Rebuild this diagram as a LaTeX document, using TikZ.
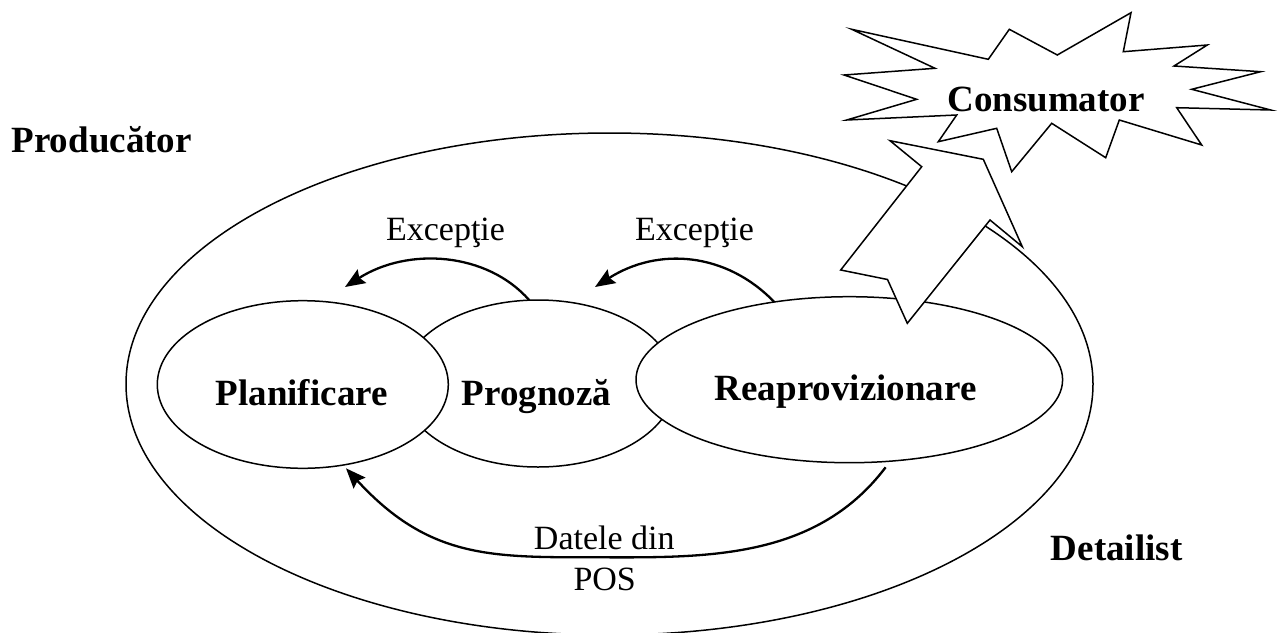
\documentclass[tikz,border=0pt]{standalone}
\usepackage{fontspec}
\setmainfont{Liberation Serif}
\usetikzlibrary{shapes.geometric,arrows.meta}
\begin{document}
\begin{tikzpicture}[x=1pt,y=-1pt,
  outline/.style={draw=black,line width=1.5pt,fill=white,line join=miter},
  oval/.style={outline,ellipse,inner sep=0pt,outer sep=0pt},
  boldlbl/.style={font=\fontsize{37}{40}\selectfont\bfseries,inner sep=0pt,anchor=base},
  plainlbl/.style={font=\fontsize{34}{38}\selectfont,inner sep=0pt,anchor=base},
  flow/.style={line width=2.3pt,-{Stealth[length=20pt,width=16pt,inset=3pt]}}]
\useasboundingbox (0,0) rectangle (1280,632);
\clip (0,0) rectangle (1280,632);

% outer region and the three process ovals
\node[oval,minimum width=967pt,minimum height=502pt] (outer) at (609.5,384) {};
\node[oval,minimum width=274pt,minimum height=167pt] (progn) at (538,383.5) {};
\node[oval,minimum width=291pt,minimum height=167.6pt] (plan) at (302.8,384.5) {};
\node[oval,minimum width=426.6pt,minimum height=166pt] (reapr) at (849.3,379.7) {};

% notched block arrow towards the consumer
\draw[outline] (983.3,159.3) -- (1022.3,246.7) -- (990,220) -- (907.3,323.3)
  -- (887.5,279.5) -- (840.7,270) -- (921.7,166.7) -- (890,140.7) -- cycle;

% starburst
\draw[outline] (851.7,29.3) -- (988.3,59.3) -- (1009.3,29.3) -- (1057.3,55)
  -- (1131,12.7) -- (1123.3,51.7) -- (1207.3,45) -- (1174,66) -- (1260.7,71.7)
  -- (1191.7,89.3) -- (1270.7,110) -- (1176.7,107.7) -- (1201.7,145)
  -- (1119.3,120) -- (1105.7,157.7) -- (1051.7,123.3) -- (1011.7,171.7)
  -- (996.7,128.3) -- (938.3,141.7) -- (956.7,115) -- (846.7,120)
  -- (916.7,99.3) -- (844,75) -- (935,68.3) -- cycle;

% labels
\node[boldlbl] (prod) at (101.7,152.7) {Producător};
\node[boldlbl] (cons) at (1046,111.7) {Consumator};
\node[boldlbl] (tplan) at (301.7,405) {Planificare};
\node[boldlbl] (tprogn) at (536.4,405) {Prognoză};
\node[boldlbl] (treapr) at (845.7,400) {Reaprovizionare};
\node[boldlbl] (det) at (1116.7,560.7) {Detailist};
\node[plainlbl] (ex1) at (445.5,240) {Excepţie};
\node[plainlbl] (ex2) at (694.5,240) {Excepţie};
\node[plainlbl] (dat) at (604.3,549.3) {Datele din};
\node[plainlbl] (pos) at (604.7,590) {POS};

% connector end points
\coordinate (e1end) at (345,287);
\coordinate (e2end) at (595,287);
\coordinate (posStart) at (885.6,467.3);
\coordinate (posEnd) at (346,468.3);

% exception feedback arrows
\draw[flow] (progn.96) .. controls (487,252) and (408,246.8) .. (e1end);
\draw[flow] (reapr.134) .. controls (726,252) and (658,246.8) .. (e2end);

% POS data arrow
\draw[flow] (posStart) .. controls (813.2,563) and (698,557.3) .. (588,557.3)
  .. controls (488,557.3) and (427.1,556.7) .. (posEnd);
\end{tikzpicture}
\end{document}
